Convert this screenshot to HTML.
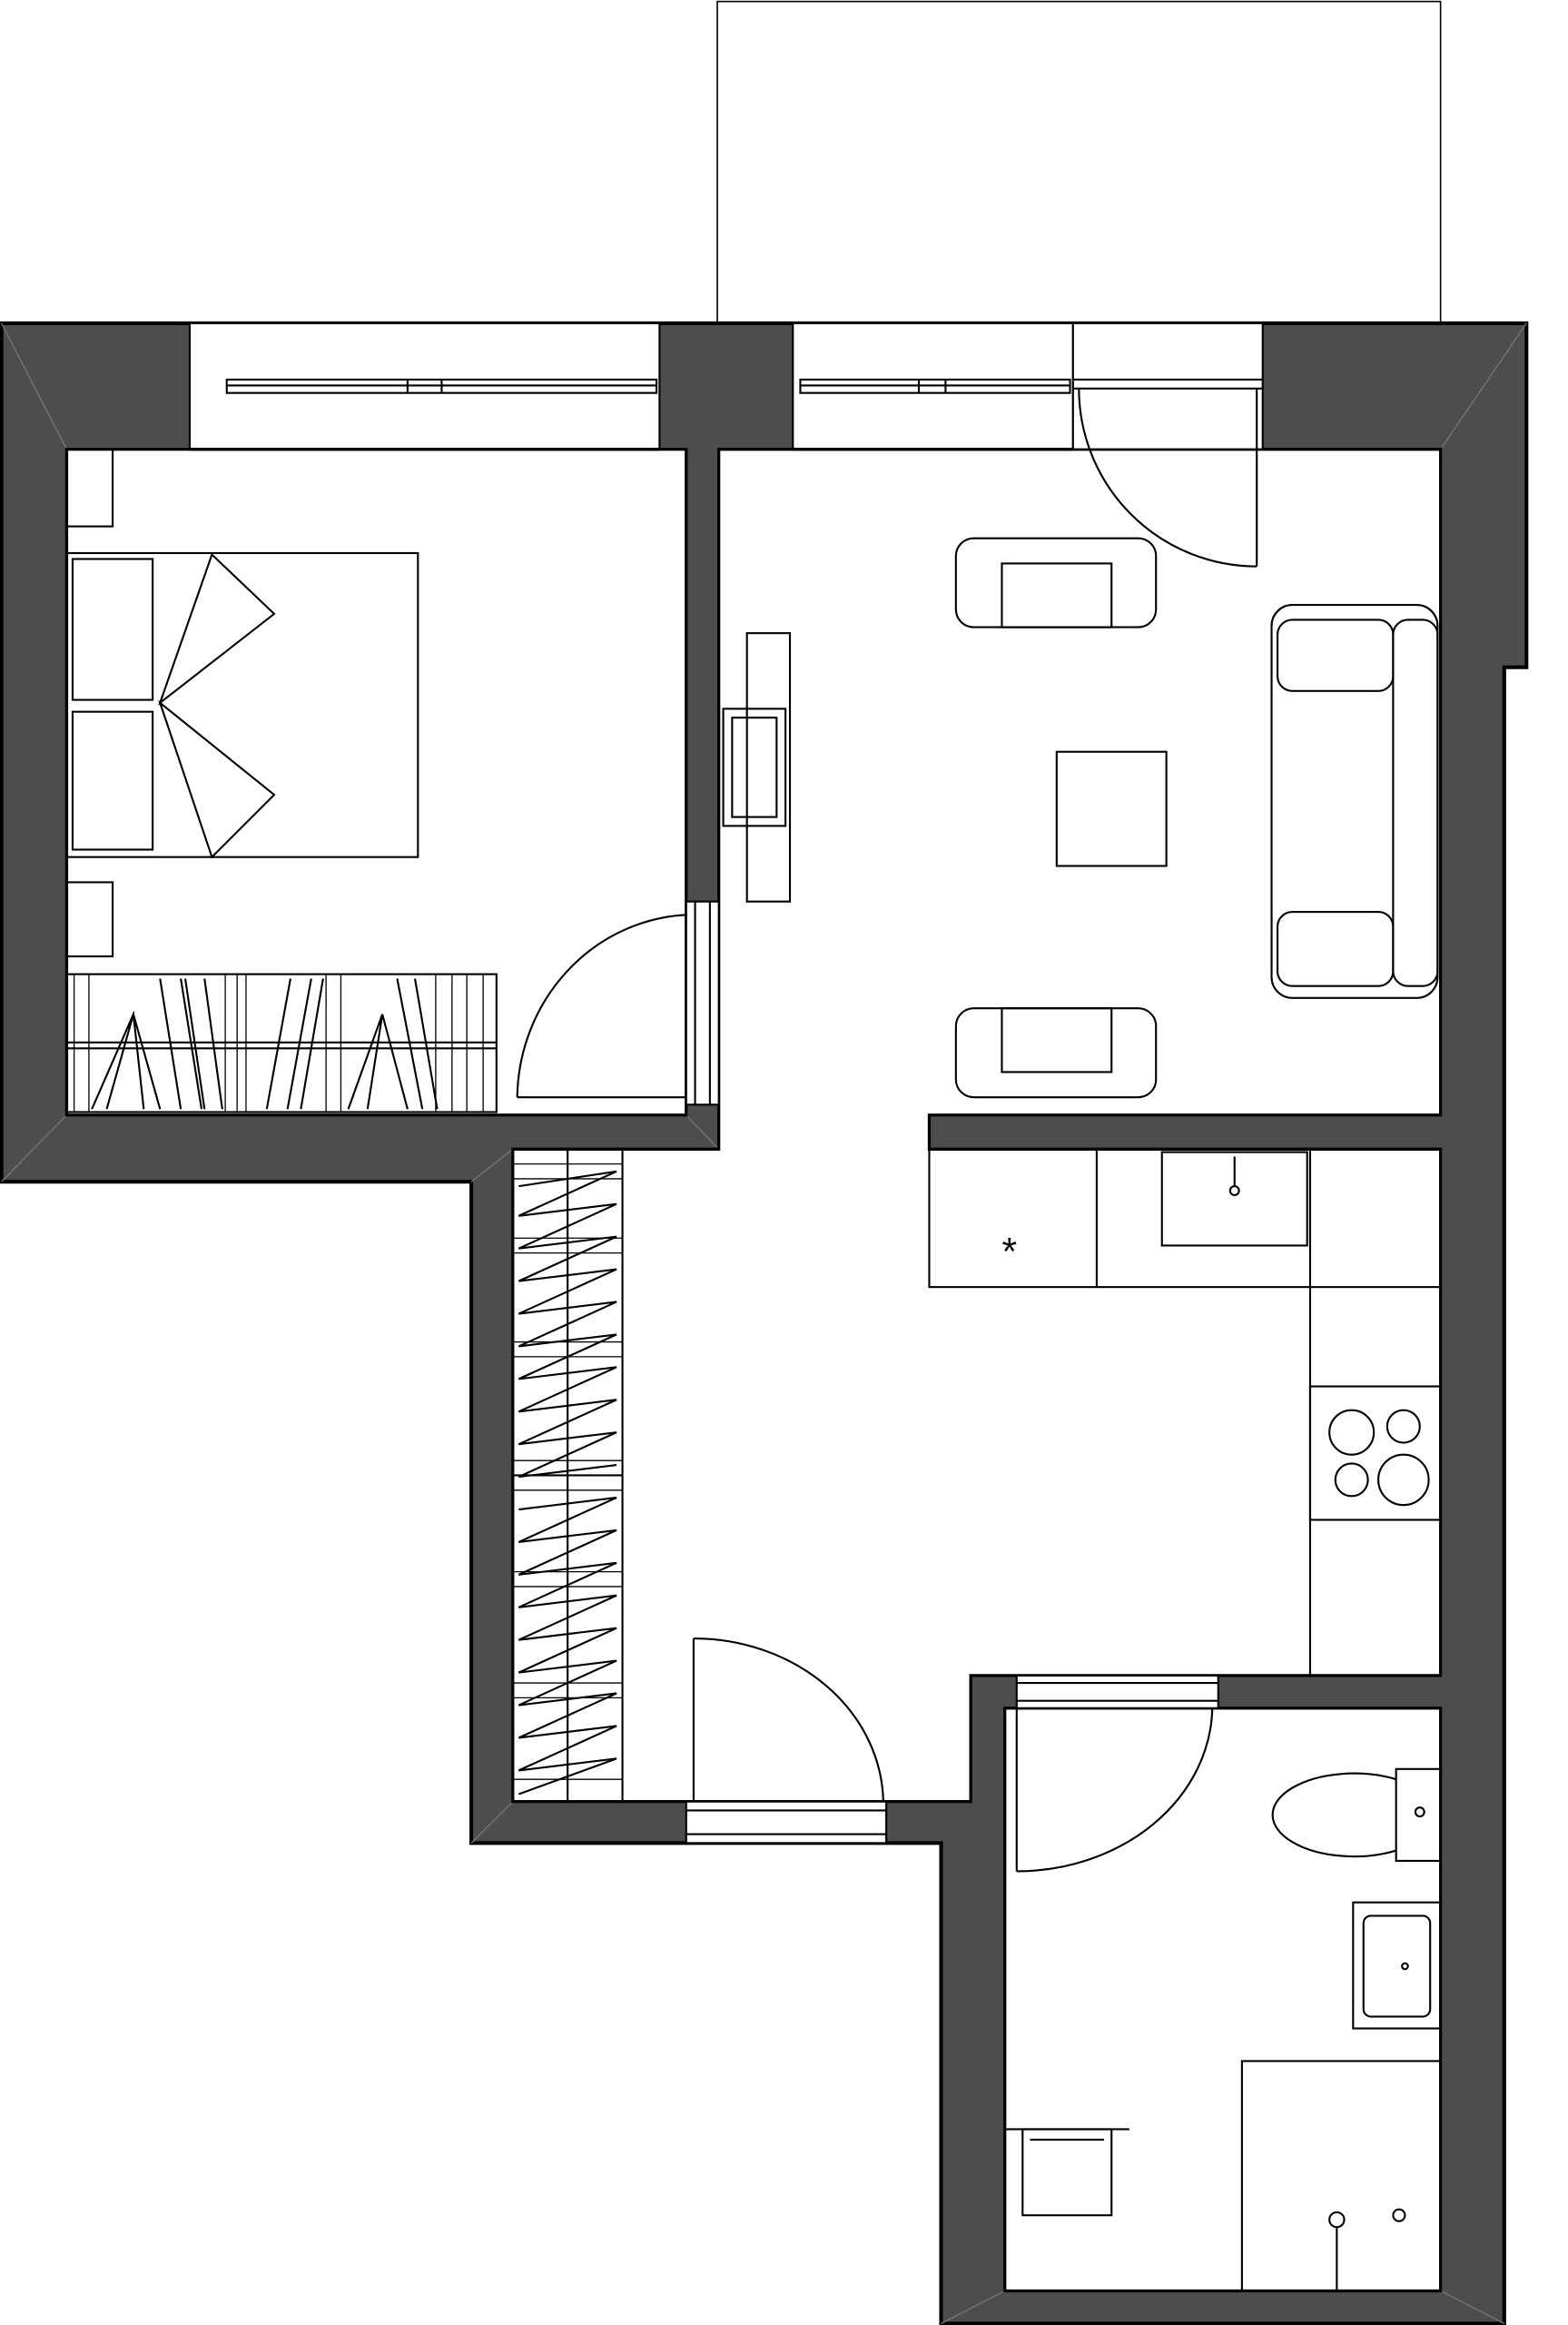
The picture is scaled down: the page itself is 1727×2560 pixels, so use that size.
<!DOCTYPE html>
<html><head><meta charset="utf-8"><style>html,body{margin:0;padding:0;background:#fff}svg{display:block}</style></head>
<body>
<svg width="1727" height="2560" viewBox="0 0 1058 1568" preserveAspectRatio="none" xmlns="http://www.w3.org/2000/svg">
<g fill="none" stroke="#000" stroke-width="1.3">
<!-- balcony -->
<rect x="484" y="1" width="488" height="217" stroke-width="1"/>
<!-- walls -->
<path d="M1,218 L1030,218 L1030,450 L1015,450 L1015,1567 L635,1567 L635,1243 L318,1243 L318,797 L1,797 Z" fill="#4d4d4d" stroke-width="2.5"/>
<g stroke="#777" stroke-width="0.8">
<line x1="1" y1="218" x2="45" y2="303"/><line x1="1" y1="797" x2="45" y2="752"/>
<line x1="318" y1="797" x2="346" y2="775"/><line x1="485" y1="775" x2="463" y2="752"/>
<line x1="1030" y1="218" x2="972" y2="303"/><line x1="1015" y1="1567" x2="972" y2="1545"/>
<line x1="635" y1="1567" x2="678" y2="1545"/><line x1="318" y1="1243" x2="346" y2="1215"/>
</g>
<!-- interiors -->
<rect x="45" y="303" width="418" height="449" fill="#fff" stroke-width="2"/>
<path d="M485,303 L972,303 L972,752 L627,752 L627,775 L972,775 L972,1130 L655,1130 L655,1215 L346,1215 L346,775 L485,775 Z" fill="#fff" stroke-width="2"/>
<rect x="678" y="1152" width="294" height="393" fill="#fff" stroke-width="2"/>
<!-- windows -->
<rect x="128" y="218" width="317" height="85" fill="#fff"/>
<line x1="128" y1="303" x2="445" y2="303" stroke-width="2"/>
<rect x="153" y="256" width="290" height="9"/><line x1="153" y1="260" x2="443" y2="260"/>
<line x1="275" y1="256" x2="275" y2="265"/><line x1="298" y1="256" x2="298" y2="265"/>
<rect x="535" y="218" width="189" height="85" fill="#fff"/>
<line x1="535" y1="303" x2="724" y2="303" stroke-width="2"/>
<rect x="540" y="256" width="182" height="9"/><line x1="540" y1="260" x2="722" y2="260"/>
<line x1="620" y1="256" x2="620" y2="265"/><line x1="638" y1="256" x2="638" y2="265"/>
<!-- top door -->
<rect x="724" y="218" width="128" height="85" fill="#fff"/>
<line x1="724" y1="256" x2="852" y2="256"/><line x1="724" y1="262" x2="852" y2="262"/>
<line x1="848" y1="262" x2="848" y2="382"/>
<path d="M728,262 A120,120 0 0 0 848,382"/>
<!-- bedroom door -->
<rect x="463" y="608" width="22" height="137" fill="#fff"/>
<line x1="469" y1="608" x2="469" y2="745"/><line x1="479" y1="608" x2="479" y2="745"/>
<line x1="349" y1="740" x2="463" y2="740"/>
<path d="M463,617 A120,125 0 0 0 349,740"/>
<!-- entry door -->
<rect x="463" y="1215" width="135" height="28" fill="#fff"/>
<line x1="463" y1="1221" x2="598" y2="1221"/><line x1="463" y1="1237" x2="598" y2="1237"/>
<line x1="468" y1="1105" x2="468" y2="1215"/>
<path d="M468,1105 A128,112 0 0 1 596,1215"/>
<!-- bath door -->
<rect x="686" y="1130" width="136" height="22" fill="#fff"/>
<line x1="686" y1="1135" x2="822" y2="1135"/><line x1="686" y1="1147" x2="822" y2="1147"/>
<line x1="686" y1="1152" x2="686" y2="1262"/>
<path d="M686,1262 A132,112 0 0 0 818,1152"/>
<!-- bedroom furniture -->
<rect x="45" y="303" width="31" height="52"/>
<rect x="45" y="595" width="31" height="50"/>
<rect x="45" y="373" width="237" height="205"/>
<rect x="49" y="377" width="54" height="95"/>
<rect x="49" y="480" width="54" height="93"/>
<path d="M108,474 L143,374 L185,414 Z M108,474 L143,578 L185,536 Z"/>
<rect x="45" y="657" width="290" height="93"/>
<line x1="45" y1="703" x2="335" y2="703"/><line x1="45" y1="707" x2="335" y2="707"/>
<path stroke-width="0.8" d="M50,657V750M60,657V750M152,657V750M160,657V750M166,657V750M220,657V750M230,657V750M294,657V750M305,657V750M315,657V750M326,657V750"/>
<path d="M62,748 L90,684 L97,748 M72,748 L90,684 M90,684 L108,748 M108,660 L122,748 M122,660 L136,748 M125,660 L138,748 M138,660 L150,748 M180,748 L196,660 M194,748 L210,660 M203,748 L218,660 M235,748 L258,684 L248,748 M258,684 L275,748 M268,660 L285,748 M280,660 L295,748"/>
<!-- hallway wardrobe -->
<rect x="346" y="775" width="74" height="440"/>
<line x1="383" y1="775" x2="383" y2="1215"/>
<path stroke-width="0.8" d="M346,785H420M346,795H420M346,835H420M346,845H420M346,905H420M346,915H420M346,985H420M346,995H420M346,1005H420M346,1060H420M346,1070H420M346,1135H420M346,1145H420M346,1200H420"/>
<path d="M350,800 L416,790 L350,820 L416,812 L350,842 L416,834 L350,864 L416,856 L350,886 L416,878 L350,908 L416,900 L350,930 L416,922 L350,952 L416,944 L350,974 L416,966 L350,996 L416,988 M350,1018 L416,1010 L350,1040 L416,1032 L350,1062 L416,1054 L350,1084 L416,1076 L350,1106 L416,1098 L350,1128 L416,1120 L350,1150 L416,1142 L350,1172 L416,1164 L350,1194 L416,1186 L350,1210"/>
<line x1="346" y1="995" x2="420" y2="995"/>
<!-- TV -->
<rect x="504" y="427" width="29" height="181"/>
<rect x="488" y="478" width="42" height="79"/>
<rect x="494" y="484" width="30" height="67"/>
<!-- armchairs -->
<rect x="645" y="363" width="135" height="60" rx="12"/>
<rect x="676" y="380" width="74" height="43"/>
<rect x="645" y="680" width="135" height="60" rx="12"/>
<rect x="676" y="680" width="74" height="43"/>
<rect x="713" y="507" width="74" height="77"/>
<!-- sofa -->
<rect x="858" y="408" width="112" height="265" rx="14"/>
<rect x="940" y="418" width="30" height="247" rx="10"/>
<rect x="862" y="418" width="78" height="48" rx="10"/>
<rect x="862" y="615" width="78" height="50" rx="10"/>
<!-- kitchen -->
<rect x="627" y="775" width="257" height="93"/>
<line x1="740" y1="775" x2="740" y2="868"/>
<rect x="784" y="777" width="98" height="63"/>
<circle cx="833" cy="803" r="3"/><line x1="833" y1="780" x2="833" y2="800"/>
<text x="676" y="853" font-family="Liberation Sans, sans-serif" font-size="26" fill="#000" stroke="none">*</text>
<rect x="884" y="868" width="88" height="262"/>
<rect x="884" y="935" width="88" height="90"/>
<circle cx="912" cy="966" r="15"/><circle cx="947" cy="962" r="11"/>
<circle cx="912" cy="998" r="11"/><circle cx="947" cy="998" r="17"/>
<!-- bath -->
<path d="M942,1193 L972,1193 L972,1255 L942,1255 Z"/>
<path d="M942,1200 A55,28 0 1 0 942,1248"/>
<circle cx="958" cy="1222" r="3"/>
<rect x="913" y="1283" width="59" height="85"/>
<rect x="920" y="1292" width="45" height="68" rx="5"/>
<circle cx="948" cy="1326" r="2"/>
<rect x="838" y="1390" width="134" height="155"/>
<circle cx="902" cy="1497" r="5"/><circle cx="944" cy="1494" r="4"/>
<line x1="902" y1="1502" x2="902" y2="1545"/>
<rect x="690" y="1436" width="60" height="58"/>
<line x1="678" y1="1436" x2="762" y2="1436"/>
<line x1="695" y1="1443" x2="745" y2="1443"/>
</g>
</svg>
</body></html>
